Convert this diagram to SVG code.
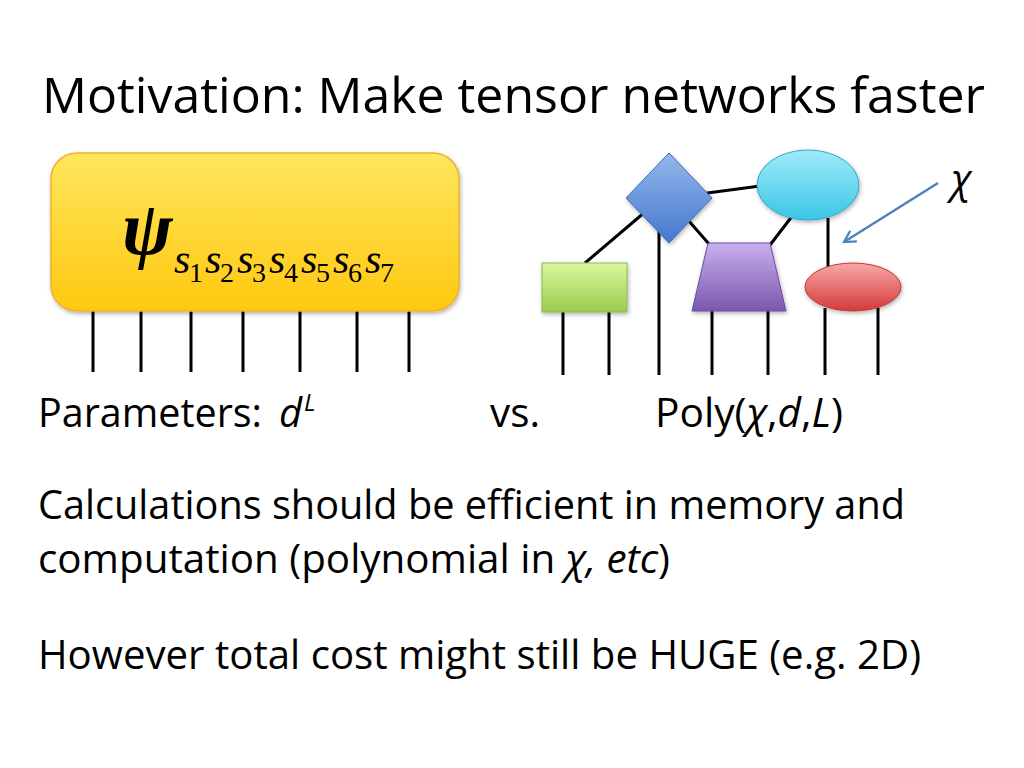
<svg xmlns="http://www.w3.org/2000/svg" width="1024" height="768" viewBox="0 0 1024 768">
<defs>
<style>
.t{font-family:"Open Sans","Liberation Sans",sans-serif;fill:#000}
.i{font-style:italic}
.m{font-family:"Liberation Serif","Times New Roman","DejaVu Serif",serif;font-style:italic;fill:#000}
.d{font-style:normal;font-size:28px}
.leg{stroke:#000;stroke-width:3;fill:none}
.edge{stroke:#000;stroke-width:3;fill:none}
</style>
<linearGradient id="gY" x1="0" y1="0" x2="0" y2="1"><stop offset="0" stop-color="#FFE65E"/><stop offset="1" stop-color="#FFC80F"/></linearGradient>
<linearGradient id="gB" x1="0" y1="0" x2="0" y2="1"><stop offset="0" stop-color="#93B8EC"/><stop offset="1" stop-color="#4478CE"/></linearGradient>
<linearGradient id="gC" x1="0" y1="0" x2="0" y2="1"><stop offset="0" stop-color="#A0EBFA"/><stop offset="1" stop-color="#3AC6E6"/></linearGradient>
<linearGradient id="gG" x1="0" y1="0" x2="0" y2="1"><stop offset="0" stop-color="#DAF7A0"/><stop offset="1" stop-color="#9CCB4C"/></linearGradient>
<linearGradient id="gP" x1="0" y1="0" x2="0" y2="1"><stop offset="0" stop-color="#C8B0EE"/><stop offset="1" stop-color="#7A56AE"/></linearGradient>
<linearGradient id="gR" x1="0" y1="0" x2="0" y2="1"><stop offset="0" stop-color="#F6A8A8"/><stop offset="1" stop-color="#D63A3A"/></linearGradient>
<filter id="sh" x="-10%" y="-10%" width="130%" height="130%"><feDropShadow dx="1" dy="2" stdDeviation="2" flood-color="#000" flood-opacity="0.3"/></filter>
<marker id="ah" viewBox="0 0 12 12" refX="10" refY="6" markerWidth="6" markerHeight="6" orient="auto" markerUnits="strokeWidth"><path d="M1,1 L10,6 L1,11" fill="none" stroke="#4F81BD" stroke-width="1.8"/></marker>
</defs>
<rect width="1024" height="768" fill="#fff"/>

<text id="title" class="t" x="42" y="113" font-size="50" textLength="943" lengthAdjust="spacingAndGlyphs">Motivation: Make tensor networks faster</text>

<g id="connectors">
<line class="leg" x1="93" y1="311" x2="93" y2="372"/>
<line class="leg" x1="141" y1="311" x2="141" y2="372"/>
<line class="leg" x1="191" y1="311" x2="191" y2="372"/>
<line class="leg" x1="243" y1="311" x2="243" y2="372"/>
<line class="leg" x1="300" y1="311" x2="300" y2="372"/>
<line class="leg" x1="357" y1="311" x2="357" y2="372"/>
<line class="leg" x1="409" y1="311" x2="409" y2="372"/>
<line class="edge" x1="700" y1="194" x2="760" y2="186"/>
<line class="edge" x1="645" y1="212" x2="585" y2="263"/>
<line class="edge" x1="688" y1="220" x2="709" y2="244"/>
<line class="edge" x1="793" y1="215" x2="770" y2="245"/>
<line class="edge" x1="828" y1="218" x2="828" y2="267"/>
<line class="leg" x1="659" y1="230" x2="659" y2="375"/>
<line class="leg" x1="563" y1="311" x2="563" y2="375"/>
<line class="leg" x1="609" y1="311" x2="609" y2="375"/>
<line class="leg" x1="712" y1="310" x2="712" y2="375"/>
<line class="leg" x1="768" y1="310" x2="768" y2="375"/>
<line class="leg" x1="825" y1="308" x2="825" y2="375"/>
<line class="leg" x1="878" y1="308" x2="878" y2="375"/>
<line x1="938" y1="183" x2="844" y2="242" stroke="#4F81BD" stroke-width="2.5" marker-end="url(#ah)"/>
</g>

<g id="psi">
<rect x="51" y="153" width="408" height="158" rx="26" fill="url(#gY)" stroke="#EDB22E" stroke-width="1.5" filter="url(#sh)"/>
<text class="m" font-size="42"><tspan x="122" y="254" font-size="76" font-weight="bold">ψ</tspan><tspan x="174" y="273">s</tspan><tspan class="d" x="189" y="282">1</tspan><tspan x="205" y="273">s</tspan><tspan class="d" x="220" y="282">2</tspan><tspan x="237" y="273">s</tspan><tspan class="d" x="252" y="282">3</tspan><tspan x="269" y="273">s</tspan><tspan class="d" x="284" y="282">4</tspan><tspan x="301" y="273">s</tspan><tspan class="d" x="316" y="282">5</tspan><tspan x="333" y="273">s</tspan><tspan class="d" x="348" y="282">6</tspan><tspan x="365" y="273">s</tspan><tspan class="d" x="380" y="282">7</tspan></text>
</g>

<g id="diamond"><polygon points="669,153 712,198 669,243 626,198" fill="url(#gB)" stroke="#3B6DB8" stroke-width="1" filter="url(#sh)"/></g>
<g id="cyan"><ellipse cx="808" cy="185" rx="51" ry="35" fill="url(#gC)" stroke="#30A8C8" stroke-width="1" filter="url(#sh)"/></g>
<g id="green"><rect x="542" y="263" width="85" height="49" fill="url(#gG)" stroke="#8CB84A" stroke-width="1" filter="url(#sh)"/></g>
<g id="purple"><polygon points="708,243 770,243 786,311 692,311" fill="url(#gP)" stroke="#6E4CA0" stroke-width="1" filter="url(#sh)"/></g>
<g id="red"><ellipse cx="853" cy="287" rx="48" ry="24" fill="url(#gR)" stroke="#C03838" stroke-width="1" filter="url(#sh)"/></g>

<text id="chi" class="t i" x="951" y="193" font-size="40">χ</text>

<text class="t" x="38" y="427" font-size="40" textLength="224" lengthAdjust="spacingAndGlyphs">Parameters:</text>
<text class="t i" x="279" y="427" font-size="40">d</text>
<text class="t i" x="304" y="411" font-size="24">L</text>
<text class="t" x="490" y="427" font-size="40" textLength="50" lengthAdjust="spacingAndGlyphs">vs.</text>
<text class="t" x="655" y="427" font-size="40" textLength="188" lengthAdjust="spacingAndGlyphs">Poly(<tspan class="i">χ</tspan>,<tspan class="i">d</tspan>,<tspan class="i">L</tspan>)</text>

<text class="t" x="38" y="519" font-size="40" textLength="867" lengthAdjust="spacingAndGlyphs">Calculations should be efficient in memory and</text>
<text class="t" x="38" y="573" font-size="40" textLength="632" lengthAdjust="spacingAndGlyphs">computation (polynomial in <tspan class="i">χ, etc</tspan>)</text>
<text class="t" x="38" y="669" font-size="40" textLength="883" lengthAdjust="spacingAndGlyphs">However total cost might still be HUGE (e.g. 2D)</text>
</svg>
